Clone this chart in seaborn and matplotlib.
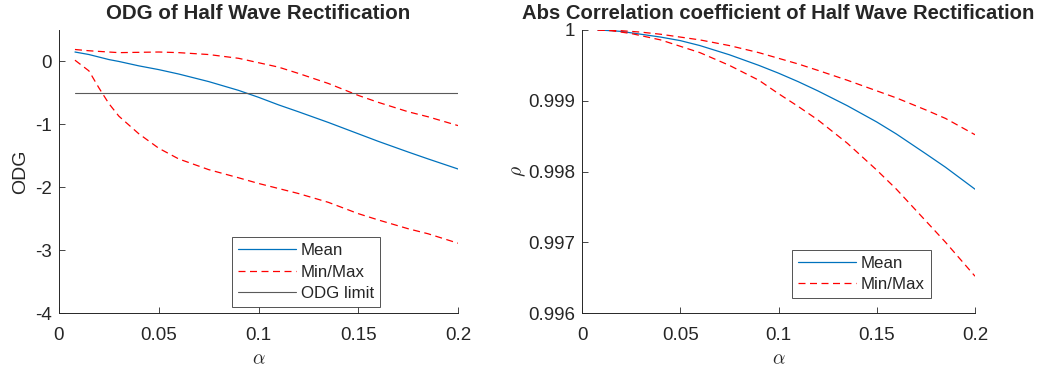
import numpy as np
import pandas as pd
import matplotlib
matplotlib.use("Agg")
import matplotlib.pyplot as plt
import seaborn as sns

alpha = [0.008, 0.015, 0.02, 0.025, 0.03, 0.04, 0.05, 0.06, 0.075, 0.09,
         0.1, 0.11, 0.12, 0.135, 0.15, 0.16, 0.175, 0.185, 0.2]

odg_mean = [0.15, 0.11, 0.07, 0.03, 0.0, -0.07, -0.13, -0.2, -0.32, -0.46,
            -0.57, -0.69, -0.80, -0.97, -1.15, -1.27, -1.44, -1.55, -1.71]
odg_max = [0.19, 0.17, 0.16, 0.15, 0.14, 0.145, 0.15, 0.14, 0.11, 0.05,
           -0.02, -0.09, -0.19, -0.35, -0.54, -0.65, -0.80, -0.88, -1.02]
odg_min = [0.02, -0.15, -0.42, -0.67, -0.87, -1.15, -1.38, -1.55, -1.72, -1.85,
           -1.94, -2.02, -2.10, -2.24, -2.42, -2.52, -2.66, -2.74, -2.89]
odg_limit = -0.5

rho_mean = [1.0, 0.99999, 0.99998, 0.99996, 0.99994, 0.99990, 0.99985, 0.99978, 0.99965, 0.99950,
            0.99939, 0.99927, 0.99914, 0.99893, 0.99870, 0.99853, 0.99825, 0.99806, 0.99775]
rho_max = [1.0, 0.999995, 0.99999, 0.99998, 0.99997, 0.99994, 0.99990, 0.99986, 0.99978, 0.99968,
           0.99960, 0.99952, 0.99943, 0.99929, 0.99914, 0.99904, 0.99887, 0.99875, 0.99852]
rho_min = [1.0, 0.99999, 0.99997, 0.99995, 0.99992, 0.99986, 0.99977, 0.99968, 0.99950, 0.99929,
           0.99910, 0.99892, 0.99873, 0.99840, 0.99802, 0.99775, 0.99730, 0.99700, 0.99652]

x_ticks = [0, 0.05, 0.1, 0.15, 0.2]
x_ticklabels = ["0", "0.05", "0.1", "0.15", "0.2"]
odg_ticks = [-4, -3, -2, -1, 0]
rho_ticks = [0.996, 0.997, 0.998, 0.999, 1.0]
rho_ticklabels = ["0.996", "0.997", "0.998", "0.999", "1"]

sns.set_style("ticks")
plt.rcParams["font.family"] = ["Liberation Sans", "DejaVu Sans"]
plt.rcParams["mathtext.fontset"] = "cm"
plt.rcParams["xtick.direction"] = "in"
plt.rcParams["ytick.direction"] = "in"

BLUE = (0.0, 0.447, 0.741)
RED = "#ff0000"
GRAY = "#5a5a5a"
AXC = "#262626"
DASH = [5.6, 3.6]

fig = plt.figure(figsize=(10.51, 3.74), dpi=100)
ax1 = fig.add_axes([59 / 1051, 1 - 313 / 374, (458 - 59) / 1051, (313 - 30) / 374])
ax2 = fig.add_axes([582 / 1051, 1 - 313 / 374, (975 - 582) / 1051, (313 - 30) / 374])

df1 = pd.DataFrame({"alpha": alpha, "mean": odg_mean, "max": odg_max, "min": odg_min})
sns.lineplot(data=df1, x="alpha", y="mean", ax=ax1, color=BLUE, lw=0.9, label="Mean")
sns.lineplot(data=df1, x="alpha", y="max", ax=ax1, color=RED, lw=0.9, label="Min/Max")
ax1.lines[-1].set_dashes(DASH)
sns.lineplot(data=df1, x="alpha", y="min", ax=ax1, color=RED, lw=0.9, label="_nolegend_")
ax1.lines[-1].set_dashes(DASH)
ax1.plot([alpha[0], alpha[-1]], [odg_limit, odg_limit], color=GRAY, lw=0.8, label="ODG limit")

df2 = pd.DataFrame({"alpha": alpha, "mean": rho_mean, "max": rho_max, "min": rho_min})
sns.lineplot(data=df2, x="alpha", y="mean", ax=ax2, color=BLUE, lw=0.9, label="Mean")
sns.lineplot(data=df2, x="alpha", y="max", ax=ax2, color=RED, lw=0.9, label="Min/Max")
ax2.lines[-1].set_dashes(DASH)
sns.lineplot(data=df2, x="alpha", y="min", ax=ax2, color=RED, lw=0.9, label="_nolegend_")
ax2.lines[-1].set_dashes(DASH)

for ax in (ax1, ax2):
    ax.set_xlim(0, 0.2)
    ax.set_xticks(x_ticks)
    ax.set_xticklabels(x_ticklabels)
    ax.tick_params(labelsize=13.5, colors=AXC, length=4, width=0.6)
    ax.tick_params(axis="x", pad=10)
    ax.tick_params(axis="y", pad=5)
    for s in ("top", "right"):
        ax.spines[s].set_visible(False)
    for s in ("left", "bottom"):
        ax.spines[s].set_color(AXC)
        ax.spines[s].set_linewidth(0.7)
    ax.set_xlabel(r"$\alpha$", fontsize=14, labelpad=5)

ax1.set_ylim(-4, 0.5)
ax1.set_yticks(odg_ticks)
ax1.set_yticklabels([str(t) for t in odg_ticks])
ax1.set_ylabel("ODG", fontsize=14, labelpad=4)
ax1.set_title("ODG of Half Wave Rectification", fontsize=14.8, fontweight="bold", pad=8)

ax2.set_ylim(0.996, 1.0)
ax2.set_yticks(rho_ticks)
ax2.set_yticklabels(rho_ticklabels)
ax2.set_ylabel(r"$\rho$", fontsize=14, labelpad=0)
ax2.set_title("Abs Correlation coefficient of Half Wave Rectification", fontsize=14.6, fontweight="bold", pad=8)

leg_kw = dict(loc="lower left", fontsize=12.2, frameon=True, fancybox=False, edgecolor=AXC,
              handlelength=3.4, borderpad=0.35, labelspacing=0.38, handletextpad=0.3, borderaxespad=0)
leg1 = ax1.legend(bbox_to_anchor=((232 - 59) / 399, (313 - 307) / 283), **leg_kw)
leg1.get_frame().set_linewidth(0.7)
leg2 = ax2.legend(bbox_to_anchor=((792 - 582) / 393, (313 - 298) / 283), **leg_kw)
leg2.get_frame().set_linewidth(0.7)

fig.savefig("out.png", dpi=100, facecolor="white")
